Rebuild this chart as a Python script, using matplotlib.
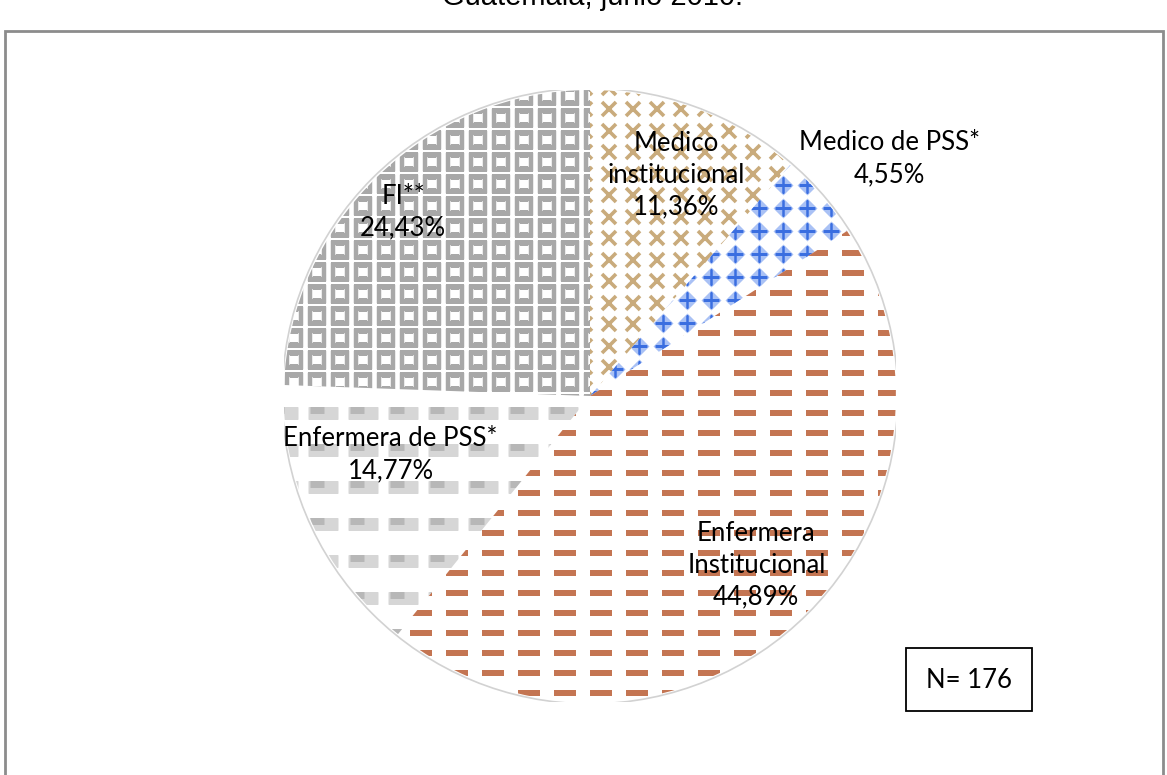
import numpy as np
import matplotlib
matplotlib.use("Agg")
import matplotlib.pyplot as plt
from matplotlib.patches import Rectangle, Circle

# data
labels = ["Medico\ninstitucional", "Medico de PSS*", "Enfermera\nInstitucional",
          "Enfermera de PSS*", "FI**"]
counts = [20, 8, 79, 26, 43]
pct_text = ["11,36%", "4,55%", "44,89%", "14,77%", "24,43%"]
total_n = 176
title = "Guatemala, junio 2010."

# label placement (radius in pie units, angle nudge in degrees)
label_r = [0.775, 1.25, 0.775, 0.68, 0.857]
label_nudge = [-0.9, -2.5, 2.6, -8.1, 1.5]

W, H = 1167, 775
cx, cy, R = 590, 396, 306

fig = plt.figure(figsize=(W / 100, H / 100), dpi=100)
ax = fig.add_axes([(cx - R) / W, (H - cy - R) / H, 2 * R / W, 2 * R / H])

wedges, _ = ax.pie(counts, startangle=90, counterclock=False, radius=1,
                   wedgeprops=dict(facecolor="white", edgecolor="none", linewidth=0))
ax.axis("off")

px = 1.0 / R  # one pixel in pie units


def texture(wedge, dx, dy, x0=0.0, y0=0.0, **kw):
    xs = np.arange(-1.05 + x0 * px, 1.05, dx * px)
    ys = np.arange(-1.05 + y0 * px, 1.05, dy * px)
    gx, gy = np.meshgrid(xs, ys)
    ln, = ax.plot(gx.ravel(), gy.ravel(), ls="none", **kw)
    ln.set_clip_path(wedge)
    return ln


# Medico institucional: tan crosses
texture(wedges[0], 24, 21.5, 4, 6, marker="x", markersize=10,
        markeredgewidth=2.6, color="#c9ab7c")
# Medico de PSS: blue plus in diamonds
texture(wedges[1], 24, 23, 10, 3, marker="D", markersize=10,
        markerfacecolor="#a9c1f5", markeredgecolor="none")
texture(wedges[1], 24, 23, 10, 3, marker="+", markersize=11,
        markeredgewidth=1.8, color="#3a6ee0")
# Enfermera Institucional: brown dashes
texture(wedges[2], 36, 20, 8, 4, marker="_", markersize=16.5,
        markeredgewidth=3.0, color="#c47552")
# Enfermera de PSS: grey smudges
texture(wedges[3], 40, 37, 14, 8, marker="_", markersize=22,
        markeredgewidth=9, color="#d2d2d2", alpha=0.9)
texture(wedges[3], 40, 37, 8, 11, marker="_", markersize=10,
        markeredgewidth=5, color="#b0b0b0", alpha=0.8)
# FI: grey squares
texture(wedges[4], 23, 22, 2, 5, marker="s", markersize=10.5,
        markerfacecolor="none", markeredgecolor="#a8a8a8", markeredgewidth=3.2)

# white separators and rim
ax.pie(counts, startangle=90, counterclock=False, radius=1,
       wedgeprops=dict(fill=False, edgecolor="white", linewidth=3))
ax.add_patch(Circle((0, 0), 1.006, fill=False, edgecolor="#d2d2d2", linewidth=1.2))
ax.set_xlim(-1, 1)
ax.set_ylim(-1, 1)
ax.set_aspect("equal")

# labels
for w, lab, pct, r, nd in zip(wedges, labels, pct_text, label_r, label_nudge):
    ang = np.deg2rad((w.theta1 + w.theta2) / 2 + nd)
    ax.text(r * np.cos(ang), r * np.sin(ang), lab + "\n" + pct, ha="center",
            va="center", fontsize=18.5, family="Lato", linespacing=1.35, color="black")

# N box
fig.text(969 / W, 1 - 680 / H, "N= %d" % total_n, ha="center", va="center",
         fontsize=18.5, family="Lato")
fig.patches.append(Rectangle((906 / W, 1 - 711 / H), 126 / W, 63 / H,
                             transform=fig.transFigure, fill=False,
                             edgecolor="black", linewidth=1.3))

# outer frame and cut title
fig.patches.append(Rectangle((5 / W, -0.01), 1158 / W, 1 - 31 / H + 0.01,
                             transform=fig.transFigure, fill=False,
                             edgecolor="#8c8c8c", linewidth=2))
fig.text(592 / W, 1 - 5 / H, title, ha="center", va="baseline", fontsize=21,
         family="Liberation Sans")

fig.savefig("out.png", dpi=100)
